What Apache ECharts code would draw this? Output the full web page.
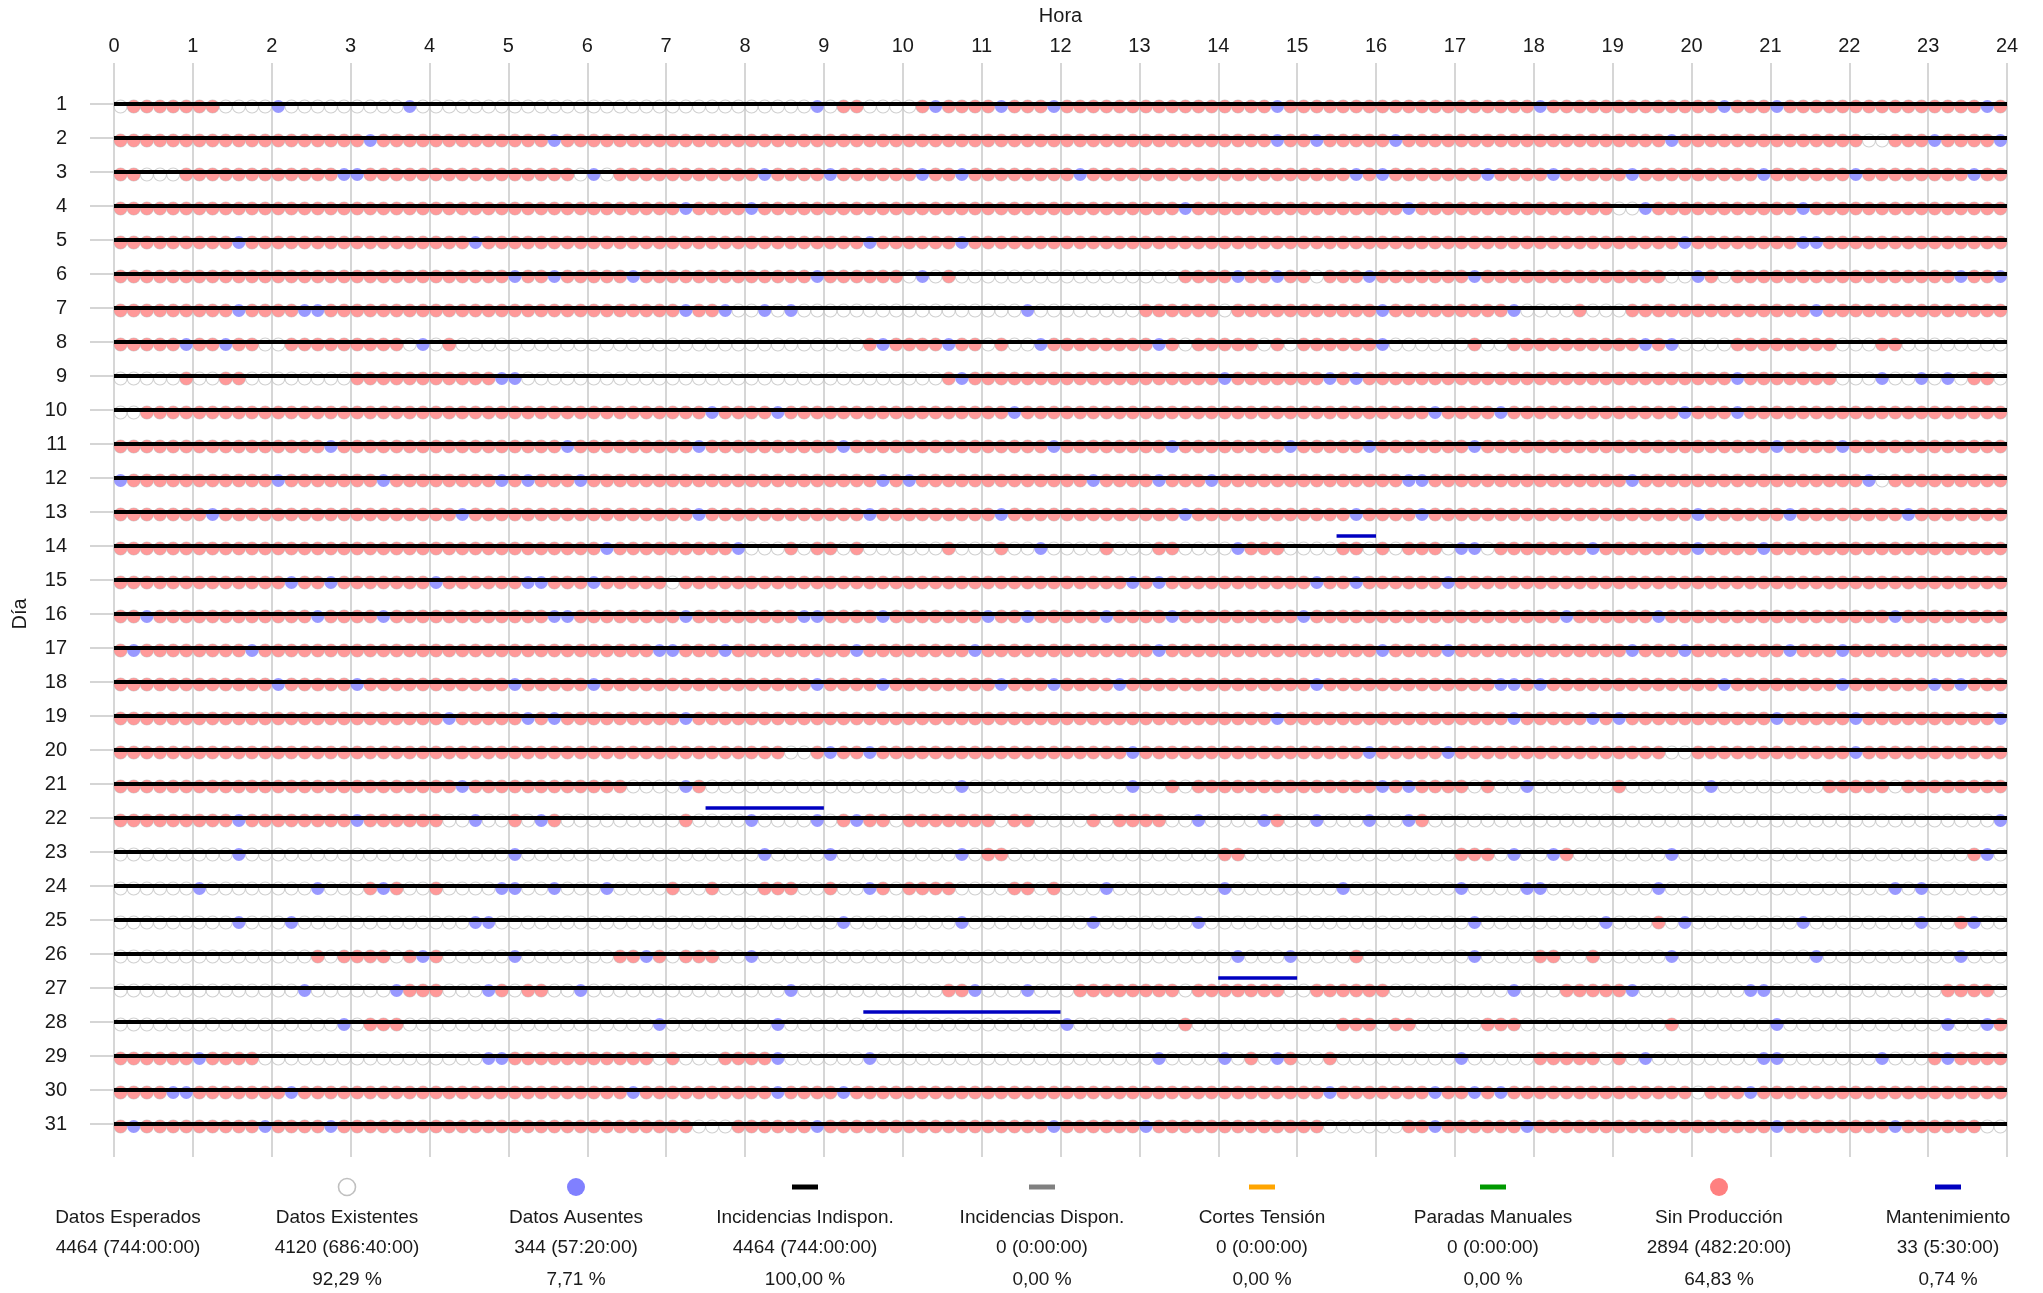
<!DOCTYPE html>
<html><head><meta charset="utf-8">
<script src="https://cdn.jsdelivr.net/npm/echarts@6/dist/echarts.min.js"></script>
<style>html,body{margin:0;padding:0;background:#fff}#c{width:2043px;height:1293px}</style>
</head><body><div id="c"></div>
<script>
// ---------------- DATA ----------------
const hourTicks = [0,1,2,3,4,5,6,7,8,9,10,11,12,13,14,15,16,17,18,19,20,21,22,23,24];
const days = ['1','2','3','4','5','6','7','8','9','10','11','12','13','14','15','16','17','18','19','20','21','22','23','24','25','26','27','28','29','30','31'];
// One string per day, 144 ten-minute slots grouped by hour.
// '.' = dato existente, 'r' = sin producción (existente), 'b' = dato ausente
const slotStates = [
".rrrrr rr.... b..... ....b. ...... ...... ...... ...... .....b .rr... .rbrrr rbrrrb rrrrrr rrrrrr rrrrbr rrrrrr rrrrrr rrrrrr brrrrr rrrrrr rrbrrr brrrrr rrrrrr rrrrbr",
"rrrrrr rrrrrr rrrrrr rbrrrr rrrrrr rrrbrr rrrrrr rrrrrr rrrrrr rrrrrr rrrrrr rrrrrr rrrrrr rrrrrr rrrrbr rbrrrr rbrrrr rrrrrr rrrrrr rrrrbr rrrrrr rrrrrr r..rrr brrrrb",
"rr...r rrrrrr rrrrrb brrrrr rrrrrr rrrrr. b.rrrr rrrrrr rbrrrr brrrrr rbrrbr rrrrrr rbrrrr rrrrrr rrrrrr rrrrbr brrrrr rrbrrr rbrrrr rbrrrr rrrrrb rrrrrr brrrrr rrrbrr",
"rrrrrr rrrrrr rrrrrr rrrrrr rrrrrr rrrrrr rrrrrr rbrrrr brrrrr rrrrrr rrrrrr rrrrrr rrrrrr rrrbrr rrrrrr rrrrrr rrbrrr rrrrrr rrrrrr ..brrr rrrrrr rrbrrr rrrrrr rrrrrr",
"rrrrrr rrrbrr rrrrrr rrrrrr rrrbrr rrrrrr rrrrrr rrrrrr rrrrrr rrrbrr rrrrbr rrrrrr rrrrrr rrrrrr rrrrrr rrrrrr rrrrrr rrrrrr rrrrrr rrrrrb rrrrrr rrbbrr rrrrrr rrrrrr",
"rrrrrr rrrrrr rrrrrr rrrrrr rrrrrr brrbrr rrrbrr rrrrrr rrrrrb rrrrrr .b.r.. ...... ...... ...rrr rbrrbr r.rrrb rrrrrr rbrrrr rrrrrr rrrr.. br.rrr rrrrrr rrrrrr rrbrrb",
"rrrrrr rrrbrr rrbbrr rrrrrr rrrrrr rrrrrr rrrrrr rbrrb. .b.b.. ...... ...... ...b.. ...... rrrrrr .rrrrr rrrrrr brrrrr rrrrb. ...r.. .rrrrr rrrrrr rrrbrr rrrrrr rrrrrr",
"rrrrrb rrbrr. .rrrrr rrrr.b .r.... ...... ...... ...... ...... ...rbr rrrbrr .r..br rrrrrr rbr.rr rrr.r. rrrrrr b..... .r..rr rrrrrr rrbrb. ...rrr rrrrr. ..rr.. ......",
".....r ..rr.. ...... rrrrrr rrrrrb b..... ...... ...... ...... ...... ...rbr rrrrrr rrrrrr rrrrrr brrrrr rrbrbr rrrrrr rrrrrr rrrrrr rrrrrr rrrbrr rrrrr. ..b..b .b.rr.",
"..rrrr rrrrrr rrrrrr rrrrrr rrrrrr rrrrrr rrrrrr rrrbrr rrbrrr rrrrrr rrrrrr rrbrrr rrrrrr rrrrrr rrrrrr rrrrrr rrrrbr rrrbrr rrrrrr rrrrrb rrrbrr rrrrrr rrrrrr rrrrrr",
"rrrrrr rrrrrr rrrrbr rrrrrr rrrrrr rrrrbr rrrrrr rrbrrr rrrrrr rbrrrr rrrrrr rrrrrb rrrrrr rrbrrr rrrrrb rrrrrb rrrrrr rbrrrr rrrrrr rrrrrr rrrrrr brrrrb rrrrrr rrrrrr",
"brrrrr rrrrrr brrrrr rrbrrr rrrrrb rbrrrb rrrrrr rrrrrr rrrrrr rrrrbr brrrrr rrrrrr rrbrrr rbrrrb rrrrrr rrrrrr rrbbrr rrrrrr rrrrrr rbrrrr rrrrrr rrrrrr rb.rrr rrrrrr",
"rrrrrr rbrrrr rrrrrr rrrrrr rrbrrr rrrrrr rrrrrr rrbrrr rrrrrr rrrbrr rrrrrr rbrrrr rrrrrr rrrbrr rrrrrr rrrrbr rrrbrr rrrrrr rrrrrr rrrrrr brrrrr rbrrrr rrrrbr rrrrrr",
"rrrrrr rrrrrr rrrrrr rrrrrr rrrrrr rrrrrr rbrrrr rrrrrb ...r.r r.r... ...r.. .r..b. ...r.. .rr... .brrr. ...rr. r.rrr. bb.rrr rrrrbr rrrrrr brrrrb rrrrrr rrrrrr rrrrrr",
"rrrrrr rrrrrr rbrrbr rrrrrr brrrrr rbbrrr brrrrr .rrrrr rrrrrr rrrrrr rrrrrr rrrrrr rrrrrb rbrrrr rrrrrr rbrrbr rrrrrb rrrrrr rrrrrr rrrrrr rrrrrr rrrrrr rrrrrr rrrrrr",
"rrbrrr rrrrrr rrrbrr rrbrrr rrrrrr rrrbbr rrrrrr rbrrrr rrrrbb rrrrbr rrrrrr brrbrr rrrbrr rrbrrr rrrrrr brrrrr rrrrrr rrrrrr rrbrrr rrrbrr rrrrrr rrrrrr rrrbrr rrrrrr",
"rbrrrr rrrrbr rrrrrr rrrrrr rrrrrr rrrrrr rrrrrb brrrbr rrrrrr rrbrrr rrrrrb rrrrrr rrrrrr rbrrrr rrrrrr rrrrrr brrrrb rrrrrr rrrrrr rbrrrb rrrrrr rbrrrb rrrrrr rrrrrr",
"rrrrrr rrrrrr brrrrr brrrrr rrrrrr brrrrr brrrrr rrrrrr rrrrrb rrrrbr rrrrrr rbrrrb rrrrbr rrrrrr rrrrrr rbrrrr rrrrrr rrrbbr brrrrr rrrrrr rrbrrr rrrrrb rrrrrr brbrrr",
"rrrrrr rrrrrr rrrrrr rrrrrr rbrrrr rbrbrr rrrrrr rbrrrr rrrrrr rrrrrr rrrrrr rrrrrr rrrrrr rrrrrr rrrrbr rrrrrr rrrrrr rrrrbr rrrrbr brrrrr rrrrrr brrrrr brrrrr rrrrrb",
"rrrrrr rrrrrr rrrrrr rrrrrr rrrrrr rrrrrr rrrrrr rrrrrr rrr..r brrbrr rrrrrr rrrrrr rrrrrb rrrrrr rrrrrr rrrrrb rrrrrb rrrrrr rrrrrr rrrr.. rrrrrr rrrrrr brrrrr rrrrrr",
"rrrrrr rrrrrr rrrrrr rrrrrr rrbrrr rrrrrr rrr... .br... ...... ...... ....b. ...... .....b ..r.rr rrrrrr rrrrrr brbrrr r.r..b ...... r..... .b.... ....rr rrr.rr rrrrrr",
"rrrrrr rrrbrr rrrrrr brrrrr r..b.. r.br.. ...... .r.... b....b .rbrr. rrrrrr r.rr.. ..r.rr rr..b. ...br. .b...b ..br.. ...... ...... ...... ...... ...... ...... .....b",
"...... ...b.. ...... ...... ...... b..... ...... ...... .b.... b..... ....b. rr.... ...... ...... rr.... ...... ...... rrr.b. .br... ....b. ...... ...... ...... ...rb.",
"...... b..... ...b.. .rbr.. r....b b..b.. .b.... r..r.. .rrr.. r..br. rrrr.. ..rr.r ...b.. ...... b..... ...b.. ...... b....b b..... ...b.. ...... ...... ...b.b ......",
"...... ...b.. .b.... ...... ...bb. ...... ...... ...... ...... .b.... ....b. ...... ..b... ....b. ...... ...... ...... .b.... .....b ...r.b ...... ..b... .....b ..rb..",
"...... ...... ...r.r rrr.rb r..... b..... ..rrbr .rrr.. b..... ...... ...... ...... ...... ...... .b...b ....r. ...... .b.... rr..r. ....b. ...... ...b.. ...... ..b...",
"...... ...... ..b... ...brr r...br .rr..b ...... ...... ...b.. ...... ...rrb ...b.. .rrrrr rrr.rr rrrrr. .rrrrr r..... ....b. ..rrrr rb.... ....bb ...... ...... .rrrr.",
"...... ...... .....b .rrr.. ...... ...... .....b ...... ..b... ...... ...... ...... b..... ...r.. ...... ...rrr .rr... ..rrr. ...... ....r. ...... b..... ...... .b..br",
"rrrrrr brrrr. ...... ...... ....bb rrrrrr rrrrr. r...rr rrb... ...b.. ...... ...... ...... .b.... b.r.br ..r... ...... b..... rrrrr. r.b... .....b b..... ..b... rbrrrr",
"rrrrbb rrrrrr rbrrrr rrrrrr rrrrrr rrrrrr rrrbrr rrrrrr rrbrrr rbrrrr rrrrrr rrrrrr rrrrrr rrrrrr rrrrrr rrbrrr rrrrbr rbrbrr rrrrrr rrrrrr .rrrbr rrrrrr rrrrrr rrrrrr",
"rbrrrr rrrrrb rrrrbr rrrrrr rrrrrr rrrrrr rrrrrr rr...r rrrrrb rrrrrr rrrrrr rrrrrb rrrrrr brrrrr rrrrrr rr.... ..rrbr rrrrrb rrrrrr rrrrrr rrrrrr brrrrr rrrbrr rrrr.."
];
// [día, hora inicio, hora fin]
const indisponPeriods = [[1,0,24],[2,0,24],[3,0,24],[4,0,24],[5,0,24],[6,0,24],[7,0,24],[8,0,24],[9,0,24],[10,0,24],[11,0,24],[12,0,24],[13,0,24],[14,0,24],[15,0,24],[16,0,24],[17,0,24],[18,0,24],[19,0,24],[20,0,24],[21,0,24],[22,0,24],[23,0,24],[24,0,24],[25,0,24],[26,0,24],[27,0,24],[28,0,24],[29,0,24],[30,0,24],[31,0,24]];
const mantenimientoPeriods = [[14,15.5,16],[22,7.5,9],[27,14,15],[28,9.5,12]];

const legendNames = ['Datos Esperados','Datos Existentes','Datos Ausentes','Incidencias Indispon.','Incidencias Dispon.','Cortes Tensión','Paradas Manuales','Sin Producción','Mantenimiento'];
const legendCounts = ['4464 (744:00:00)','4120 (686:40:00)','344 (57:20:00)','4464 (744:00:00)','0 (0:00:00)','0 (0:00:00)','0 (0:00:00)','2894 (482:20:00)','33 (5:30:00)'];
const legendPercents = ['','92,29 %','7,71 %','100,00 %','0,00 %','0,00 %','0,00 %','64,83 %','0,74 %'];

// ---------------- BUILD ----------------
const FONT = '"Liberation Sans", Arial, sans-serif';
const existing = [], sinProd = [], ausentes = [];
const bad = [];
slotStates.forEach((row, di) => {
  const s = row.replace(/\s+/g, '');
  if (s.length !== 144) bad.push((di+1) + ':' + s.length);
  for (let i = 0; i < s.length; i++) {
    const x = (i + 0.5) / 6;
    const c = s[i];
    if (c === '.' || c === 'r') existing.push([x, di]);
    if (c === 'r') sinProd.push([x, di]);
    if (c === 'b') ausentes.push([x, di]);
  }
});
const toIdx = arr => arr.map(p => [p[0] - 1, p[1], p[2]]);

function segRenderer(color, width, offset) {
  return function (params, api) {
    const d = api.value(0), s = api.value(1), e = api.value(2);
    const p1 = api.coord([s, d]), p2 = api.coord([e, d]);
    return { type: 'line', shape: { x1: p1[0], y1: p1[1] + offset, x2: p2[0], y2: p2[1] + offset },
      style: { stroke: color, lineWidth: width } };
  };
}

// legend styling (presentation only)
const colCenters = [128, 347, 576, 805, 1042, 1262, 1493, 1719, 1948];
const symStyle = [
  null,
  { kind: 'ring', color: '#c0c0c0' },
  { kind: 'dot', color: '#8080ff' },
  { kind: 'bar', color: '#000000' },
  { kind: 'bar', color: '#808080' },
  { kind: 'bar', color: '#ffa500' },
  { kind: 'bar', color: '#009900' },
  { kind: 'dot', color: '#ff8080' },
  { kind: 'bar', color: '#0000c0' }
];
const graphics = [];
const txt = (t, x, y) => ({ type: 'text', x: x, y: y, silent: true,
  style: { text: t, fill: '#1a1a1a', font: '19px ' + FONT, align: 'center', verticalAlign: 'middle', textAlign: 'center', textVerticalAlign: 'middle' } });
legendNames.forEach((n, k) => {
  const cx = colCenters[k];
  const st = symStyle[k];
  if (st) {
    if (st.kind === 'ring') graphics.push({ type: 'circle', silent: true, shape: { cx: cx, cy: 1187, r: 8.5 }, style: { fill: 'rgba(0,0,0,0)', stroke: st.color, lineWidth: 1.6 } });
    if (st.kind === 'dot') graphics.push({ type: 'circle', silent: true, shape: { cx: cx, cy: 1187, r: 9 }, style: { fill: st.color } });
    if (st.kind === 'bar') graphics.push({ type: 'rect', silent: true, shape: { x: cx - 13, y: 1184.5, width: 26, height: 5 }, style: { fill: st.color } });
  }
  graphics.push(txt(n, cx, 1218));
  graphics.push(txt(legendCounts[k], cx, 1248));
  if (legendPercents[k]) graphics.push(txt(legendPercents[k], cx, 1280));
});
if (bad.length) graphics.push({ type: 'text', x: 300, y: 10, style: { text: 'BAD ROWS ' + bad.join(','), fill: 'red', font: '20px sans-serif' } });

const option = {
  animation: false,
  backgroundColor: '#ffffff',
  textStyle: { fontFamily: FONT },
  grid: [
    { left: 114, right: 36, top: 63, bottom: 136, containLabel: false, outerBoundsMode: 'none' },
    { left: 114, right: 36, top: 87, bottom: 152, containLabel: false, outerBoundsMode: 'none' }
  ],
  xAxis: [
    { gridIndex: 0, type: 'value', position: 'top', min: hourTicks[0], max: hourTicks[hourTicks.length - 1], interval: 1,
      name: 'Hora', nameLocation: 'middle', nameGap: 37, nameTextStyle: { fontSize: 20, color: '#1a1a1a', fontFamily: FONT },
      axisLine: { show: false }, axisTick: { show: false },
      axisLabel: { fontSize: 20, color: '#1a1a1a', margin: 7, fontFamily: FONT },
      splitLine: { show: true, lineStyle: { color: '#c8c8c8', width: 1.5 } } },
    { gridIndex: 1, type: 'value', min: 0, max: 24, show: false }
  ],
  yAxis: [
    { gridIndex: 0, type: 'value', min: 0, max: 1, show: false },
    { gridIndex: 1, type: 'category', data: days, inverse: true, offset: 14,
      name: 'Día', nameLocation: 'middle', nameRotate: 90, nameGap: 70,
      nameTextStyle: { fontSize: 20, color: '#1a1a1a', fontFamily: FONT },
      axisLine: { show: false },
      axisTick: { show: true, alignWithLabel: true, length: 24, lineStyle: { color: '#c8c8c8', width: 1.5 } },
      axisLabel: { fontSize: 20, color: '#1a1a1a', margin: 33, fontFamily: FONT },
      splitLine: { show: false } }
  ],
  series: [
    { name: 'Datos Existentes', type: 'scatter', xAxisIndex: 1, yAxisIndex: 1, data: existing, symbol: 'circle', symbolSize: 13,
      symbolOffset: [0, 2.5], silent: true, z: 2,
      itemStyle: { color: 'rgba(255,255,255,0)', borderColor: '#c4c4c4', borderWidth: 1.1 } },
    { name: 'Sin Producción', type: 'scatter', xAxisIndex: 1, yAxisIndex: 1, data: sinProd, symbol: 'circle', symbolSize: 13,
      symbolOffset: [0, 2.5], silent: true, z: 3, itemStyle: { color: '#ff8080' } },
    { name: 'Datos Ausentes', type: 'scatter', xAxisIndex: 1, yAxisIndex: 1, data: ausentes, symbol: 'circle', symbolSize: 13,
      symbolOffset: [0, 2.5], silent: true, z: 4, itemStyle: { color: '#8080ff' } },
    { name: 'Incidencias Indispon.', type: 'custom', xAxisIndex: 1, yAxisIndex: 1, data: toIdx(indisponPeriods),
      encode: { x: [1, 2], y: 0 }, renderItem: segRenderer('#000000', 4, 0), silent: true, z: 5 },
    { name: 'Mantenimiento', type: 'custom', xAxisIndex: 1, yAxisIndex: 1, data: toIdx(mantenimientoPeriods),
      encode: { x: [1, 2], y: 0 }, renderItem: segRenderer('#0000c0', 3.5, -10), silent: true, z: 6 }
  ],
  graphic: graphics
};
const chart = echarts.init(document.getElementById('c'), null, { renderer: 'canvas' });
chart.setOption(option);
</script>
</body></html>
